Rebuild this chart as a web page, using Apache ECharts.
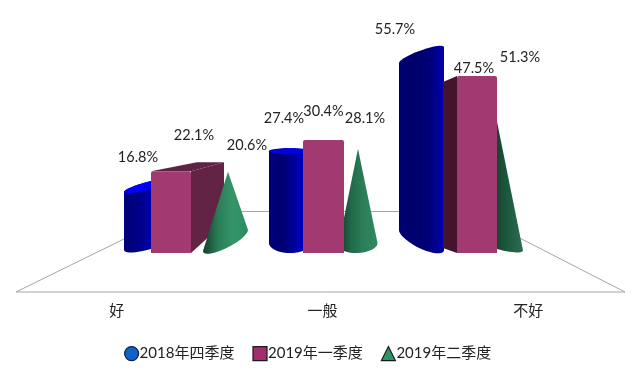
<!DOCTYPE html>
<html>
<head>
<meta charset="utf-8">
<style>
  html, body { margin: 0; padding: 0; background: #fff; }
  #chart { width: 639px; height: 373px; }
</style>
</head>
<body>
<div id="chart"></div>
<script src="https://cdn.jsdelivr.net/npm/echarts@6/dist/echarts.min.js"></script>
<script>
  const categories = ['好', '一般', '不好'];
  const seriesNames = ['2018年四季度', '2019年一季度', '2019年二季度'];
  const cylinderValues = [16.8, 27.4, 55.7];
  const boxValues = [22.1, 30.4, 47.5];
  const coneValues = [20.6, 28.1, 51.3];

  const FONT = 'Lato, "Noto Sans CJK SC", sans-serif';

  // 每个类目的伪3D外形，透视不同所以分开写
  const cylinderShape = [
    { dx: -40, rx: 23, topDy: -5, topShear: 0.26, topRy: 4, baseDy: -10, baseShear: 0.26, baseRy: 6, face: '#0000f8', stops: ['#000078', '#000088', '#0000b8', '#0000d0'], label: [-9, -34] },
    { dx: -34, rx: 21, topDy: 0, topShear: 0, topRy: 3, baseDy: -11, baseShear: 0, baseRy: 10, face: '#0000e0', stops: ['#00007c', '#000070', '#0000a8', '#0000e0'], label: [-6, -33] },
    { dx: -39.5, rx: 22.5, topDy: 10, topShear: 0.35, topRy: 5, baseDy: -14, baseShear: -0.44, baseRy: 9, face: null, stops: ['#000074', '#00006c', '#000078', '#0000b0'], label: [-26.5, -16] },
  ];
  const boxShape = [
    { dx: -16, halfW: 20, sideDx: 33, sideTopDy: -9, sideBaseDy: -31, topBackDx: 46, side: '#622345', top: '#5e2242', label: [23, -36], z2: 3 },
    { dx: -0.5, halfW: 20.5, sideDx: 0, label: [0, -29], z2: 3 },
    { dx: 16, halfW: 20, sideDx: -14, sideTopDy: 6, sideBaseDy: -6, side: '#44142c', label: [-3, -8], z2: 3 },
  ];
  const coneShape = [
    { apexDx: 41, apexDy: -5, dx: 38.5, rx: 22.5, baseDy: -13.5, shear: 0.47, ry: 8, z2: 4, stops: ['#153f2c', '#2a7d57', '#349569', '#2f8a60'], label: [19, -31] },
    { apexDx: 34, apexDy: 0, dx: 34, rx: 19.5, baseDy: -10, shear: 0.05, ry: 9, z2: 2, stops: ['#12382a', '#226a4a', '#2c8059', '#2f8a60'], label: [7, -30] },
    { apexDx: 30, apexDy: 30, dx: 40, rx: 22, baseDy: -9, shear: -0.25, ry: 5, z2: 2, stops: ['#103024', '#143f2c', '#1e5a40', '#2a6e50'], label: [29, -4] },
  ];

  const arc = (cx, cy, rx, ry, shear, t0, t1) => {
    const pts = [];
    for (let i = 0; i <= 24; i++) {
      const t = t0 + ((t1 - t0) * i) / 24;
      pts.push([cx + rx * Math.cos(t), cy + ry * Math.sin(t) - shear * rx * Math.cos(t)]);
    }
    return pts;
  };

  const horizontal = (colors) => ({
    type: 'linear',
    x: 0,
    y: 0,
    x2: 1,
    y2: 0,
    colorStops: colors.map((color, i) => ({ offset: i / (colors.length - 1), color })),
  });

  const valueText = (x, y, value) => ({
    type: 'text',
    z2: 10,
    style: {
      x,
      y,
      text: value + '%',
      fill: '#222',
      font: '14.5px ' + FONT,
      align: 'center',
      verticalAlign: 'middle',
    },
  });

  const renderCylinder = (params, api) => {
    const s = cylinderShape[params.dataIndex];
    const [cx0, base] = api.coord([api.value(0), 0]);
    const top = api.coord([api.value(0), api.value(1)])[1];
    const cx = cx0 + s.dx;
    const topY = top + s.topDy;
    const baseY = base + s.baseDy;
    const body = arc(cx, topY, s.rx, s.topRy, s.topShear, Math.PI, Math.PI * 2).concat(
      arc(cx, baseY, s.rx, s.baseRy, s.baseShear, 0, Math.PI)
    );
    const children = [
      { type: 'polygon', z2: 1, shape: { points: body }, style: { fill: horizontal(s.stops) } },
    ];
    if (s.face) {
      children.push({
        type: 'polygon',
        z2: 1,
        shape: { points: arc(cx, topY, s.rx, s.topRy, s.topShear, 0, Math.PI * 2) },
        style: { fill: s.face },
      });
    }
    children.push(valueText(cx + s.label[0], top + s.label[1], api.value(1)));
    return { type: 'group', children };
  };

  const renderBox = (params, api) => {
    const s = boxShape[params.dataIndex];
    const [cx0, base] = api.coord([api.value(0), 0]);
    const top = api.coord([api.value(0), api.value(1)])[1];
    const cx = cx0 + s.dx;
    const left = cx - s.halfW;
    const right = cx + s.halfW;
    const children = [];
    if (s.sideDx) {
      const edge = s.sideDx > 0 ? right : left;
      const back = edge + s.sideDx;
      children.push({
        type: 'polygon',
        z2: s.z2,
        shape: { points: [[edge, top], [back, top + s.sideTopDy], [back, base + s.sideBaseDy], [edge, base - 1]] },
        style: { fill: s.side },
      });
      if (s.top) {
        children.push({
          type: 'polygon',
          z2: s.z2,
          shape: { points: [[left, top], [left + s.topBackDx, top + s.sideTopDy], [back, top + s.sideTopDy], [right, top]] },
          style: { fill: s.top },
        });
      }
    }
    children.push({
      type: 'rect',
      z2: s.z2,
      shape: { x: left, y: top, width: right - left, height: base - 1 - top, r: [2, 2, 0, 0] },
      style: { fill: '#a13a70' },
    });
    children.push(valueText(cx + s.label[0], top + s.label[1], api.value(1)));
    return { type: 'group', children };
  };

  const renderCone = (params, api) => {
    const s = coneShape[params.dataIndex];
    const [cx0, base] = api.coord([api.value(0), 0]);
    const top = api.coord([api.value(0), api.value(1)])[1];
    const apexX = cx0 + s.apexDx;
    const cx = cx0 + s.dx;
    const points = [[apexX, top + s.apexDy]].concat(arc(cx, base + s.baseDy, s.rx, s.ry, s.shear, 0, Math.PI));
    return {
      type: 'group',
      children: [
        { type: 'polygon', z2: s.z2, shape: { points }, style: { fill: horizontal(s.stops) } },
        valueText(apexX + s.label[0], top + s.label[1], api.value(1)),
      ],
    };
  };

  const toPoints = (values) => values.map((v, i) => [i, v]);

  const customSeries = (name, values, renderItem, color) => ({
    name,
    type: 'custom',
    xAxisIndex: 1,
    yAxisIndex: 1,
    silent: true,
    renderItem,
    itemStyle: { color },
    encode: { x: 0, y: 1 },
    data: toPoints(values),
  });

  const chart = echarts.init(document.getElementById('chart'));

  chart.setOption({
    backgroundColor: '#fff',
    animation: false,
    grid: [
      // 类目标签按地板前沿排
      { left: 14, right: 8, top: 29, bottom: 81 },
      // 柱体所在的后排，透视后比前沿窄
      { left: 118.5, right: 109.5, top: 29, bottom: 119 },
    ],
    xAxis: [
      {
        type: 'category',
        gridIndex: 0,
        data: categories,
        axisLine: { show: false },
        axisTick: { show: false },
        axisLabel: { color: '#222', fontFamily: FONT, fontSize: 15, margin: 12 },
      },
      { type: 'category', gridIndex: 1, data: categories, show: false },
    ],
    yAxis: [
      { type: 'value', gridIndex: 0, show: false },
      { type: 'value', gridIndex: 1, show: false, min: 0, max: 60, interval: 10 },
    ],
    legend: {
      left: 119,
      top: 341,
      itemWidth: 14,
      itemHeight: 14,
      itemGap: 18,
      selectedMode: false,
      textStyle: { color: '#222', fontFamily: FONT, fontSize: 15, padding: [0, 0, 0, -4] },
      data: [
        { name: seriesNames[0], icon: 'circle', itemStyle: { color: '#0f62c6', borderColor: '#1a1a3a', borderWidth: 1.2 } },
        { name: seriesNames[1], icon: 'rect', itemStyle: { color: '#a02f6c', borderColor: '#1a1a1a', borderWidth: 1.2 } },
        { name: seriesNames[2], icon: 'triangle', itemStyle: { color: '#2f9464', borderColor: '#1a1a1a', borderWidth: 1.2 } },
      ],
    },
    graphic: [
      {
        // 地板轮廓
        type: 'polygon',
        z: -1,
        silent: true,
        shape: { points: [[16, 292], [180, 211.5], [468, 211.5], [625, 292]] },
        style: { stroke: '#a6a6a6', lineWidth: 1, fill: '#fff' },
      },
    ],
    series: [
      customSeries(seriesNames[0], cylinderValues, renderCylinder, '#0f62c6'),
      customSeries(seriesNames[1], boxValues, renderBox, '#a02f6c'),
      customSeries(seriesNames[2], coneValues, renderCone, '#2f9464'),
    ],
  });

  window.addEventListener('resize', () => chart.resize());
</script>
</body>
</html>
